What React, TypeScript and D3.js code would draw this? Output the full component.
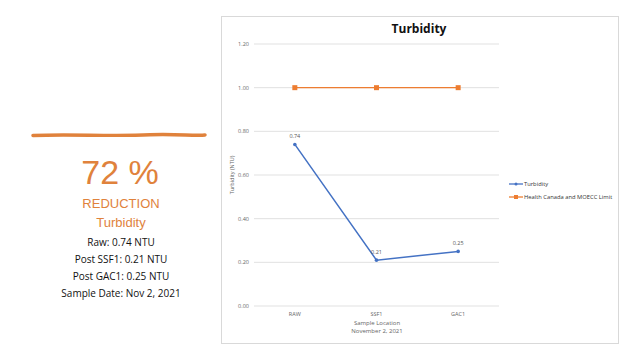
import * as d3 from "d3";
import React from "react";

const categories = ["RAW", "SSF1", "GAC1"];
const turbidity = [0.74, 0.21, 0.25];
const limit = [1.0, 1.0, 1.0];
const yTicks = [0, 0.2, 0.4, 0.6, 0.8, 1.0, 1.2];
const summaryLines = ["Raw: 0.74 NTU", "Post SSF1: 0.21 NTU", "Post GAC1: 0.25 NTU", "Sample Date: Nov 2, 2021"];

const W = 640;
const H = 360;
const plot = { left: 254, right: 499, top: 44, bottom: 306 };
const blue = "#4472C4";
const orange = "#ED7D31";
const accent = "#E0823C";
const chartFont = "'Open Sans', 'Liberation Sans', sans-serif";

export default function App() {
  const x = d3.scalePoint<string>().domain(categories).range([plot.left, plot.right]).padding(0.5);
  const y = d3.scaleLinear().domain([0, 1.2]).range([plot.bottom, plot.top]);
  const line = d3.line<number>().x((d, i) => x(categories[i]) as number).y((d) => y(d));

  // slightly wobbly brush stroke
  const brush = "M33,135.5 C70,133.8 110,136.6 150,134.8 C175,134 195,135.8 205,135";

  return (
    <svg width={W} height={H} style={{ position: "absolute", left: 0, top: 0, background: "#fff" }}>
      <rect x={0} y={0} width={W} height={H} fill="#fff" />
      {/* left summary panel */}
      <path d={brush} fill="none" stroke={accent} strokeWidth={3.5} strokeLinecap="round" />
      <text x={120} y={184} textAnchor="middle" fontFamily="'Liberation Sans', Arial, sans-serif" fontSize={34} fill={accent}>72 %</text>
      <text x={121} y={208} textAnchor="middle" fontFamily="'Liberation Sans', Arial, sans-serif" fontSize={13} fill={accent}>REDUCTION</text>
      <text x={121} y={227} textAnchor="middle" fontFamily="'Liberation Sans', Arial, sans-serif" fontSize={13} fill={accent}>Turbidity</text>
      {summaryLines.map((t, i) => (
        <text key={t} x={121} y={246 + i * 17} textAnchor="middle" fontFamily={chartFont} fontSize={10} fill="#111">{t}</text>
      ))}

      {/* chart panel */}
      <rect x={221.5} y={16.5} width={397} height={327} fill="#fff" stroke="#d9d9d9" strokeWidth={1} />
      <text x={419} y={33} textAnchor="middle" fontFamily={chartFont} fontSize={12} fontWeight="bold" fill="#111">Turbidity</text>

      {yTicks.map((t) => (
        <g key={t}>
          <line x1={plot.left} x2={plot.right} y1={y(t)} y2={y(t)} stroke="#d9d9d9" strokeWidth={0.8} />
          <text x={249} y={y(t) + 2} textAnchor="end" fontFamily={chartFont} fontSize={5.5} fill="#666">{t.toFixed(2)}</text>
        </g>
      ))}
      {categories.map((c) => (
        <text key={c} x={x(c)} y={316} textAnchor="middle" fontFamily={chartFont} fontSize={5.5} fill="#666">{c}</text>
      ))}
      <text x={377} y={325} textAnchor="middle" fontFamily={chartFont} fontSize={6} fill="#666">Sample Location</text>
      <text x={377} y={333} textAnchor="middle" fontFamily={chartFont} fontSize={6} fill="#666">November 2, 2021</text>
      <text transform={`translate(234,175) rotate(-90)`} textAnchor="middle" fontFamily={chartFont} fontSize={5.5} fill="#666">Turbidity (NTU)</text>

      {/* limit series */}
      <path d={line(limit) || ""} fill="none" stroke={orange} strokeWidth={1.3} />
      {limit.map((v, i) => (
        <rect key={i} x={(x(categories[i]) as number) - 2.5} y={y(v) - 2.5} width={5} height={5} fill={orange} />
      ))}

      {/* turbidity series */}
      <path d={line(turbidity) || ""} fill="none" stroke={blue} strokeWidth={1.5} />
      {turbidity.map((v, i) => (
        <g key={i}>
          <circle cx={x(categories[i])} cy={y(v)} r={1.8} fill={blue} />
          <text x={x(categories[i])} y={y(v) - 6} textAnchor="middle" fontFamily={chartFont} fontSize={5.5} fill="#555">{v.toFixed(2)}</text>
        </g>
      ))}

      {/* legend */}
      <line x1={509} x2={523} y1={184} y2={184} stroke={blue} strokeWidth={1.3} />
      <circle cx={516} cy={184} r={1.5} fill={blue} />
      <text x={524} y={186} fontFamily={chartFont} fontSize={5.8} fill="#333">Turbidity</text>
      <line x1={509} x2={523} y1={197} y2={197} stroke={orange} strokeWidth={1.3} />
      <rect x={514} y={195} width={4} height={4} fill={orange} />
      <text x={524} y={199} fontFamily={chartFont} fontSize={5.8} fill="#333">Health Canada and MOECC Limit</text>
    </svg>
  );
}
